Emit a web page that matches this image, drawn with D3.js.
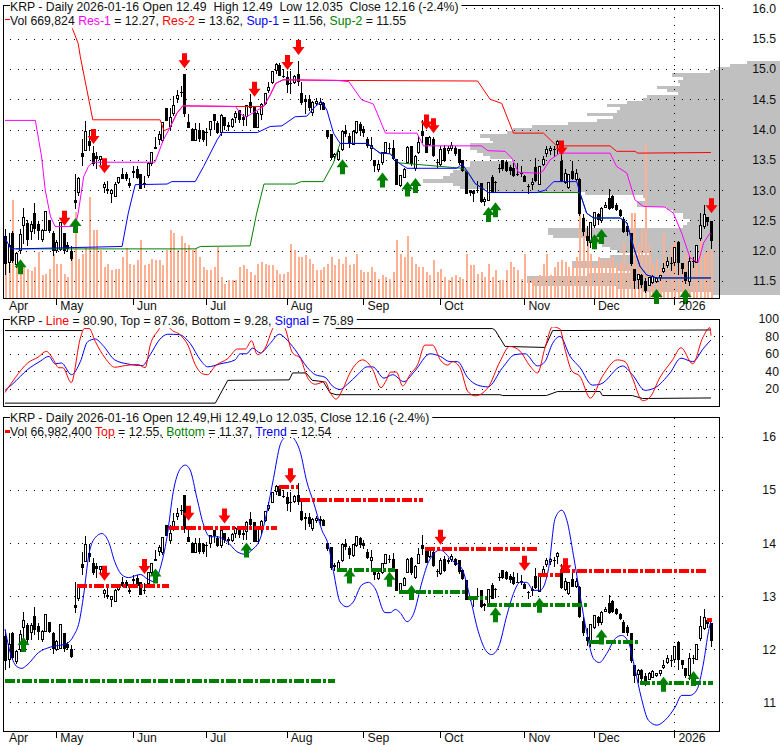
<!DOCTYPE html>
<html><head><meta charset="utf-8">
<style>
html,body{margin:0;padding:0;background:#fff}
svg{display:block;font-family:"Liberation Sans",Arial,sans-serif;font-size:12px}
text{white-space:pre;fill:#111}
</style>
<script src="https://cdnjs.cloudflare.com/ajax/libs/d3/7.8.5/d3.min.js"></script>
</head><body><script>
const opens=[12.25,11.80,12.30,11.77,12.0,12.41,12.46,12.31,12.63,12.44,
12.19,12.33,12.51,12.30,12.0,12.02,12.3,12.09,12.0,12.83,
12.96,13.61,13.65,13.81,13.62,13.57,13.5,13.05,13.0,12.94,
12.9,13.12,13.26,13.26,13.12,13.32,13.34,13.26,13.12,13.24,
13.44,13.68,13.84,13.82,14.35,14.05,14.26,14.51,14.62,14.91,
14.12,14.01,13.82,14.0,13.98,13.96,14.0,14.25,14.1,13.95,
14.2,14.05,14.05,14.19,14.33,14.2,14.22,14.45,14.39,14.03,
14.25,14.43,14.65,14.77,14.97,15.07,14.89,14.86,14.77,14.78,
14.91,14.6,14.5,14.5,14.28,14.43,14.42,14.43,14.0,13.92,
13.55,13.51,13.67,13.98,13.9,13.76,13.95,14.09,14.01,13.84,
13.68,13.5,13.34,13.45,13.62,13.7,13.7,13.51,13.07,13.21,
13.45,13.72,13.35,13.62,13.97,13.87,13.75,13.84,13.47,13.42,
13.7,13.65,13.69,13.7,13.68,13.5,13.31,13.0,12.99,13.0,
13.12,12.82,12.83,13.21,13.13,13.37,13.5,13.46,13.38,13.37,
13.27,13.28,13.23,13.07,13.1,13.38,13.09,13.43,13.6,13.66,
13.68,13.75,13.48,13.12,13.05,13.32,13.18,13.18,12.54,12.24,
12.14,12.41,12.61,12.5,12.72,12.87,12.9,12.76,12.67,12.52,
12.41,12.3,11.7,11.53,11.6,11.5,11.43,11.47,11.5,11.55,
11.66,11.75,11.8,11.8,12.14,11.8,11.65,11.5,11.83,11.8,
12.2,12.4,12.55,12.49];
const highs=[12.36,12.3,12.33,11.98,12.36,12.71,12.5,12.49,12.79,12.49,
12.36,12.65,12.51,12.33,12.17,12.47,12.3,12.14,12.08,13.27,
13.21,13.84,14.14,13.99,13.72,13.63,13.56,13.14,13.15,13.01,
13.14,13.22,13.37,13.3,13.2,13.4,13.4,13.26,13.24,13.46,
13.62,13.87,13.97,14.11,14.35,14.35,14.56,14.66,14.72,14.91,
14.26,14.03,14.1,14.1,14.0,14.03,14.14,14.25,14.14,14.25,
14.2,14.12,14.19,14.3,14.33,14.25,14.41,14.58,14.39,14.3,
14.43,14.6,14.78,14.97,15.09,15.09,15.0,14.97,14.97,14.9,
15.13,14.78,14.57,14.57,14.47,14.52,14.52,14.45,14.0,13.92,
13.62,13.68,14.0,14.07,13.95,13.99,14.13,14.12,14.05,13.88,
13.87,13.5,13.48,13.62,13.78,13.78,13.82,13.51,13.24,13.36,
13.72,13.73,13.58,13.9,14.16,13.87,13.9,13.87,13.51,13.72,
13.75,13.72,13.79,13.72,13.68,13.5,13.31,13.0,13.0,13.15,
13.12,12.88,13.13,13.25,13.15,13.43,13.5,13.48,13.42,13.45,
13.44,13.4,13.25,13.1,13.2,13.53,13.4,13.57,13.72,13.72,
13.73,13.83,13.6,13.35,13.27,13.48,13.35,13.2,12.6,12.4,
12.46,12.64,12.63,12.72,12.8,13.02,12.92,12.78,12.68,12.55,
12.45,12.3,11.7,11.62,11.62,11.55,11.57,11.6,11.56,11.6,
11.8,11.9,11.89,12.05,12.16,11.8,11.65,11.92,11.9,12.08,
12.62,12.75,12.55,12.49];
const lows=[11.6,11.64,11.8,11.72,11.95,12.11,12.08,12.18,12.27,12.18,
12.14,12.33,12.3,11.91,11.97,12.0,11.95,11.98,11.83,12.68,
12.9,13.4,13.65,13.65,13.4,13.34,13.42,12.96,12.94,12.79,
12.9,13.1,13.18,13.15,13.04,13.2,13.18,13.02,13.04,13.2,
13.4,13.67,13.75,13.78,14.14,13.99,14.22,14.44,14.53,14.2,
14.03,13.81,13.82,13.8,13.8,13.73,13.9,14.0,13.93,13.9,
14.0,13.97,14.03,14.1,14.1,14.05,14.05,14.28,14.03,14.03,
14.15,14.4,14.6,14.75,14.91,14.89,14.85,14.6,14.58,14.75,
14.72,14.41,14.25,14.3,14.22,14.38,14.32,14.33,13.85,13.5,
13.48,13.49,13.65,13.87,13.7,13.74,13.93,13.9,13.88,13.7,
13.5,13.3,13.3,13.42,13.6,13.62,13.5,13.09,13.05,13.2,
13.43,13.4,13.32,13.6,13.78,13.62,13.72,13.55,13.37,13.4,
13.46,13.6,13.65,13.57,13.42,13.3,12.93,12.9,12.8,12.96,
12.78,12.73,12.83,12.95,12.96,13.28,13.32,13.3,13.25,13.22,
13.24,13.22,13.13,12.94,13.0,13.13,13.09,13.4,13.55,13.58,
13.55,13.6,13.13,13.1,13.02,13.17,13.15,12.58,12.25,12.07,
12.05,12.38,12.43,12.45,12.72,12.67,12.68,12.65,12.55,12.3,
12.25,11.75,11.36,11.37,11.38,11.3,11.42,11.45,11.47,11.5,
11.63,11.72,11.66,11.75,11.6,11.62,11.45,11.42,11.72,11.8,
12.16,12.36,12.4,12.035];
const closes=[11.78,12.08,11.83,11.95,12.27,12.55,12.18,12.44,12.36,12.33,
12.33,12.65,12.33,12.0,12.14,12.47,12.0,12.02,11.86,12.78,
13.19,13.54,13.97,13.73,13.43,13.52,13.55,13.1,13.01,12.99,
13.1,13.2,13.19,13.19,13.07,13.28,13.2,13.02,13.1,13.44,
13.62,13.7,13.91,14.11,14.14,14.19,14.4,14.56,14.61,14.26,
14.03,13.81,14.0,13.84,13.83,13.95,14.14,14.14,13.95,14.23,
14.05,14.07,14.17,14.27,14.16,14.16,14.39,14.35,14.03,14.26,
14.41,14.6,14.7,14.96,15.07,14.89,14.86,14.73,14.77,14.88,
14.78,14.44,14.45,14.36,14.45,14.47,14.45,14.33,13.88,13.53,
13.58,13.64,13.97,13.92,13.77,13.97,14.13,13.97,13.95,13.72,
13.73,13.4,13.43,13.62,13.78,13.7,13.51,13.09,13.24,13.34,
13.7,13.43,13.56,13.78,13.89,13.62,13.87,13.57,13.46,13.67,
13.48,13.68,13.74,13.59,13.45,13.32,12.93,12.96,12.93,13.0,
12.8,12.84,13.13,12.95,13.13,13.37,13.34,13.32,13.31,13.23,
13.27,13.27,13.14,13.07,13.12,13.15,13.39,13.5,13.67,13.69,
13.68,13.8,13.15,13.27,13.25,13.18,13.28,12.6,12.31,12.16,
12.46,12.63,12.5,12.69,12.75,12.69,12.71,12.67,12.57,12.31,
12.31,11.78,11.5,11.6,11.43,11.34,11.55,11.58,11.54,11.59,
11.7,11.83,11.8,12.05,11.8,11.7,11.5,11.83,11.83,12.08,
12.42,12.6,12.47,12.16];
// daily volume, thousands of shares
const volumes=[531,484,1377,578,414,437,414,381,437,649,
320,343,414,625,475,475,343,296,578,1213,
555,625,719,1424,954,954,672,437,484,390,
414,414,578,696,484,461,531,813,461,484,
555,531,531,461,672,954,907,672,870,766,
743,672,696,578,437,390,390,437,719,296,
202,249,249,249,437,470,414,367,320,484,
508,484,461,461,390,343,343,367,757,672,
578,578,602,555,484,390,390,437,484,578,
461,555,484,578,461,484,625,390,367,367,
437,367,273,320,296,273,367,813,625,578,
870,578,484,437,437,367,320,531,367,414,
296,249,296,320,296,273,625,461,461,343,
367,296,484,296,390,249,249,390,508,437,
390,273,625,273,273,296,320,484,625,320,
437,508,531,508,437,461,578,1424,1142,954,
625,461,578,531,531,555,578,484,508,790,
484,1189,1189,743,954,2153,743,484,555,437,
907,578,743,790,625,484,625,625,578,672,
813,625,672,670];
// volume at price, rows from 15.10 down in 0.05 steps
const vapStart=15.10, vapStep=0.05;
const vapRows=[33,50,62,70,108,97,102,100,123,113,102,133,137,153,173,160,163,193,167,183,
212,248,267,273,300,290,287,310,310,303,297,290,267,310,310,320,327,330,337,357,
327,320,287,195,137,133,143,143,113,107,97,97,90,93,97,232,232,227,193,187,
178,170,163,130,170,180,208,207,163,150,193,253,253,247,163,137,68];

const res2Idx=[18.4,20,20.6,24,42.4,43.5,45,47,48.6,63,70.7,72.5,74,76,90.7,129.2,132.6,135.8,139,147.2,150.8,165.4,167.2,172.2,173,193];
const res2Val=[15.67,15.42,15.2,14.16,14.16,13.98,14.02,14.27,14.39,14.38,14.38,14.57,14.76,14.82,14.81,14.8,14.5,14.43,13.94,13.94,13.73,13.73,13.64,13.64,13.61,13.62];
const res1Idx=[0,8.3,10,11,12.4,13.7,19.2,20,21.5,22.8,24,41,43.3,45,47,48.6,63,64.7,66,70.7,72.5,74,76,90.7,94,97.5,100.7,104,112.6,114.4,130.3,132,136.7,138.5,140.4,146.3,147,149,151.7,165.4,167.2,170,172.2,174.5,180.4,182.7,185,187.3,189.5,191,192.7,193];
const res1Val=[14.15,14.15,13.55,13.0,12.57,12.4,12.4,12.62,13.22,13.39,13.46,13.46,13.83,14.02,14.27,14.39,14.38,14.24,14.21,14.38,14.57,14.76,14.82,14.81,14.79,14.49,14.42,13.94,13.94,13.73,13.73,13.65,13.64,13.53,13.29,13.28,13.31,13.5,13.61,13.61,13.39,13.28,12.84,12.73,12.72,12.62,12.29,11.88,11.81,12.13,12.29,12.27];
const sup1Idx=[0,1.5,3,32,33.7,35.6,44.3,45.6,52,54.3,58,59.3,69,72.5,75.7,79.3,82.5,84.8,86.6,88,89.8,91.6,99,102.5,105.3,107.6,109.9,123.5,125,126.7,128.5,132.2,145.4,147.7,150,156.3,157.2,159,160.9,168.1,170,171.8,173.6,175.4,178.2,193];
const sup1Val=[12.21,12.04,12.03,12.07,12.62,13.09,13.1,13.14,13.14,13.39,13.83,13.95,13.95,14.05,14.06,14.21,14.22,14.38,14.46,14.32,13.94,13.77,13.77,13.61,13.6,13.45,13.36,13.36,13.43,13.28,13.11,12.96,12.96,13.0,13.14,13.14,12.95,12.62,12.54,12.54,12.46,12.07,11.74,11.6,11.55,11.55];
const sup2Idx=[3,52,53.4,67,68.8,70.8,79.3,81,87,89.8,91.6,99,102.5,105.3,107.6,125,126.7,128.5,132.2,157,157.2,159,160.9,168.1,170,171.8,173.6,175.4,178.2,193];
const sup2Val=[12.03,12.03,12.07,12.08,12.62,13.1,13.1,13.14,13.14,13.45,13.77,13.77,13.61,13.6,13.45,13.36,13.28,13.11,12.96,12.96,12.95,12.62,12.54,12.54,12.46,12.07,11.74,11.6,11.55,11.55];
const priceDownIdx=[16,24,27,49,68,77,80,115,117,152,193];
const priceDownVal=[12.41,13.76,13.28,15.01,14.54,14.98,15.23,14.0,13.94,13.57,12.62];
const priceUpIdx=[4,19,92,103,110,112,132,134,161,163,178,186];
const priceUpVal=[11.86,12.54,13.51,13.29,13.14,13.2,12.72,12.8,12.27,12.36,11.37,11.37];

const lineIdx=[0,2.8,6.2,9,11.3,13,14.7,15.8,18.1,20.6,21.7,23,24.7,27.4,30,32.9,36.3,38.3,39.7,42.2,43.7,45.2,47.9,50,52,54,55.4,57.4,60.9,63.6,65.7,67.4,69,71.1,73.2,75,76.6,78.6,80.7,82.7,84.8,87.5,88.9,90.5,92.3,94.3,97.8,100.5,102.8,103.9,105.5,107,108.7,110.7,112.8,114.8,116.9,119,121,122.4,124.4,126.5,128.5,132,135.3,138,140.8,143.5,145.6,147.6,149.7,151.7,153,155,157.2,160,163.3,167.4,169.5,171.5,174.3,176.3,179,182.5,184.8,188,190.7,192.7,193];
const lineVal=[15.5,32.5,49.5,56,62.8,55,44,44,27,78,89,89,74,55,44.6,46.5,47.7,44,70,89,100,89,81.7,70,47.6,37,36,45.8,54.5,65.5,65.5,75,59,66.6,89,98,89,61,55,32.5,25,28,15.5,8,19,38,53,42,21,27,39,39,23,36,47.6,70,70,53,47,51,44,17,11.7,21,51,68.5,63,46,38,66.6,91,88.5,66.6,40,34,9,34,53,51,32.5,6,10,32.5,53,67,48.5,78,90,80.9];
const signalIdx=[0,2,6.2,9.6,12,13.7,15.4,18.2,20.6,22.6,24.7,26.7,30,33.5,37.6,39.7,42.2,44.5,47.6,50.6,53.4,55.4,58.8,62.9,64.3,66,67.7,69.8,72.5,75,76.6,79.3,82.7,84.8,87.5,89.5,91.6,93.6,96.4,99,100.5,103.6,106,109,112,116.2,119,121.6,123.7,126.5,129.2,132,136,139.4,142.2,145.6,147.6,149.7,151.7,154.5,157.2,160.6,162.7,168.8,171.5,175,177.7,181.8,184.8,188,191,193];
const signalVal=[18,25,42,51.4,57,48.4,49.5,36,51,74,77,70,53,48.4,46.5,59,76,82.5,82,72,53,45,48.4,53,60,60,66.6,61,72,82.5,78,64.7,44,36,33,23,19,25,36,45,45,32,36,28,40,60,57,51,51,32.5,24,22,44,59,60,46,51,72,80,57,44,24,25,46,36,18,21,38,55,51,66.6,75.89];
const topIdx=[0,21.2,null,90.4,133.3,134,136.7,147.6,149.7,193];
const topVal=[86.7,86.7,null,89,89,87,68.5,67.3,86.7,87.36];
const bottomIdx=[0,57.5,60.9,77.7,78.6,82.3,84,87,88.9,90.5,135.3,136,148,151,162.7,163.3,171.5,174.3,193];
const bottomVal=[3.3,3.3,29.5,30,38,38,29.5,28,15,13,13,12,12,16.6,16.6,12,12,8.6,9.28];

const trendIdx=[0,1.5,3.3,4.6,6,9.2,12.4,17,18.8,20.3,21.5,22.9,24.2,26.5,28.3,30,32,33.8,37,38.8,41,42.4,44.3,46,48,49.3,50.6,52.5,54.3,56,58,60.7,63.4,65.7,67.5,69.8,71.6,73.4,75.2,76.6,77.7,78.9,80.7,82.5,84.3,86.6,88.4,89.8,91.6,93.4,95.2,97.5,99.4,101.2,103.9,105.3,106.7,108,109.9,111.7,114,115.8,119,122.1,124.9,127.2,129.4,131.7,133,134.9,137.2,139,140.8,142.6,144.5,146.3,148.6,150.4,152.2,153.6,155.4,157.2,159,160.9,162.5,164.5,166.8,168.6,170.4,172.2,174,175.9,178.2,180.4,183.2,185,187.3,189.1,191,192.3,193];
const trendVal=[12.38,11.92,11.67,11.64,11.7,11.94,12.04,12.11,12.26,12.52,13.02,13.77,14.06,14.18,14.03,13.65,13.4,13.35,13.41,13.33,13.27,13.52,14.12,14.97,15.41,15.47,15.38,14.84,14.34,14.12,14.12,14.03,13.84,13.79,13.87,14.09,14.59,15.22,15.85,16.0,16.05,15.98,15.72,15.16,14.78,14.25,13.96,13.46,12.89,12.8,12.89,13.21,13.26,13.14,12.69,12.69,12.75,12.69,12.52,12.67,13.27,13.65,13.87,13.68,13.52,12.96,12.33,11.95,11.9,12.04,12.64,13.05,13.26,13.26,13.11,13.11,13.52,14.47,14.62,14.43,13.77,13.02,12.33,11.82,11.75,11.92,12.2,12.26,12.14,11.63,11.07,10.66,10.57,10.66,10.91,11.13,11.13,11.23,11.76,12.33,12.54];
const redLevelFrom=[19.8,44.7,74.8,80.7,114.9,145.8,151.7,191.8];
const redLevelTo=[44.7,74.3,80.2,114.4,145.4,151.7,191.6,193.4];
const redLevelVal=[13.2,14.28,15.06,14.81,13.88,13.39,13.47,12.55];
const greenLevelFrom=[0,90.7,107.6,126.7,131.7,159.7,173.6];
const greenLevelTo=[90.2,106.7,125.8,131.7,159.7,173.6,193.6];
const greenLevelVal=[11.41,13.49,13.07,12.97,12.84,12.13,11.37];
const trendDownIdx=[27,38,50,60,78,119,142,153];
const trendDownVal=[13.29,13.42,14.42,14.37,15.13,13.97,13.48,13.43];
const trendUpIdx=[5,41,66,94,105,111,134,146,163,180,188];
const trendUpVal=[12.23,13.52,14.01,13.52,13.46,13.21,12.79,12.97,12.37,11.48,11.59];

const monthIdx=[0,14,35,55,77,98,119,142,161,183];
const monthLabels=["Apr","May","Jun","Jul","Aug","Sep","Oct","Nov","Dec","2026"];
const priceTicks=[11.5,12,12.5,13,13.5,14,14.5,15,15.5,16];
const stochTicks=[20,40,60,80,100];
const trendTicks=[11,12,13,14,15,16];
const yearIdx=183;

const W=780,H=745,L=3,R=719,FS=12.25;
const svg=d3.select("body").append("svg").attr("width",W).attr("height",H);
const x=d3.scaleLinear().domain([0,193]).range([5,711]);
const bars=d3.range(opens.length);

const P1={top:5,bottom:298,clip:27,y:d3.scaleLinear().domain([11.5,16]).range([281,8.3])};
const P2={top:319,bottom:406,clip:327,y:d3.scaleLinear().domain([0,100]).range([406,319])};
const P3={top:417,bottom:731,clip:438,y:d3.scaleLinear().domain([11,16]).range([702.3,437])};
const yVol=d3.scaleLinear().domain([0,4117]).range([P1.bottom,P1.top]);

let clipN=0;
function clipFor(p){
  const id="c"+(clipN++);
  svg.append("clipPath").attr("id",id).append("rect").attr("x",L).attr("y",p.clip).attr("width",R-L).attr("height",p.bottom-p.clip);
  return `url(#${id})`;
}
function series(g,idx,val,color,y,w=1,curve=d3.curveLinear){
  const pts=idx.map((d,i)=>[d,val[i]]);
  g.append("path").datum(pts).attr("fill","none").attr("stroke",color).attr("stroke-width",w)
   .attr("d",d3.line().defined(d=>d[0]!==null).x(d=>x(d[0])).y(d=>y(d[1])).curve(curve));
}
function grid(p,ticks,year){
  const g=svg.append("g").attr("transform",`translate(${R},0)`)
    .call(d3.axisRight(p.y).tickValues(ticks).tickSize(0).tickFormat(""));
  g.select(".domain").remove();
  g.selectAll(".tick line").attr("x1",4).attr("x2",L-R).attr("stroke","#000").attr("stroke-dasharray","1,7").attr("shape-rendering","crispEdges");
  if(year){
    const a=svg.append("g").attr("transform",`translate(0,${p.bottom})`)
     .call(d3.axisTop(x).tickValues([yearIdx]).tickSize(p.bottom-p.top).tickFormat(""));
    a.select(".domain").remove();
    a.selectAll(".tick line").attr("stroke","#000").attr("stroke-dasharray","1,7").attr("shape-rendering","crispEdges");
  }
}
function frame(p){
  svg.append("rect").attr("x",L+.5).attr("y",p.top+.5).attr("width",R-L).attr("height",p.bottom-p.top)
   .attr("fill","none").attr("stroke","#000").attr("shape-rendering","crispEdges");
}
function valueAxis(p,ticks,fmt,right){
  const g=svg.append("g").attr("transform",`translate(${right},0)`)
    .call(d3.axisLeft(p.y).tickValues(ticks).tickSize(0).tickPadding(0).tickFormat(fmt));
  g.select(".domain").remove();
  g.selectAll("text").attr("font-size",FS).attr("font-family",'"Liberation Sans"').attr("fill","#111");
}
function monthAxis(p,baseline){
  const g=svg.append("g").attr("transform",`translate(0,${p.bottom})`)
   .call(d3.axisBottom(x).tickValues(monthIdx).tickSize(7).tickFormat((d,i)=>monthLabels[i]));
  g.select(".domain").remove();
  g.selectAll(".tick line").attr("stroke","#000").attr("shape-rendering","crispEdges").filter((d,i)=>i===0).remove();
  g.selectAll("text").attr("text-anchor","start").attr("x",3.5).attr("y",baseline-p.bottom).attr("dy",0)
   .attr("font-size",FS).attr("font-family",'"Liberation Sans"').attr("fill","#111");
}
function candles(p){
  const g=svg.append("g").attr("shape-rendering","crispEdges");
  const y=p.y, px=i=>Math.round(x(i));
  const up=i=>closes[i]>opens[i];
  g.selectAll(".w").data(bars).join("rect").attr("x",px).attr("width",1)
    .attr("y",i=>y(highs[i])).attr("height",i=>Math.max(1,y(lows[i])-y(highs[i]))).attr("fill","#000");
  g.selectAll(".b").data(bars).join("rect")
    .attr("x",i=>up(i)?px(i)-.5:px(i)-1).attr("width",i=>up(i)?2:3)
    .attr("y",i=>y(Math.max(opens[i],closes[i])))
    .attr("height",i=>Math.max(1,Math.abs(y(opens[i])-y(closes[i]))))
    .attr("fill",i=>up(i)?"#fff":"#000")
    .attr("stroke","#000").attr("stroke-width",i=>up(i)?1:0);
}
function arrows(p,idx,val,color,down){
  const s=down?-1:1;
  const shape=`M0,0L-6,${8*s}L-2.5,${8*s}L-2.5,${15*s}L2.5,${15*s}L2.5,${8*s}L6,${8*s}Z`;
  svg.append("g").selectAll("path").data(idx).join("path")
    .attr("d",shape).attr("fill",color)
    .attr("transform",(d,i)=>`translate(${Math.round(x(d))+.5},${p.y(val[i])})`);
}
function label(xp,yp,parts,bg){
  const t=svg.append("text").attr("x",xp).attr("y",yp).attr("font-size",FS);
  parts.forEach(([s,c])=>t.append("tspan").text(s).style("fill",c||"#111"));
  if(bg){
    const b=t.node().getBBox();
    svg.insert("rect",()=>t.node()).attr("x",b.x).attr("y",b.y).attr("width",b.width+3).attr("height",b.height).attr("fill","#fff");
  }
}

/* ---------- panel 1 ---------- */
const yVap=d3.scaleLinear().domain([0,357]).range([W,W-357]);
const rowH=Math.abs(P1.y(0)-P1.y(vapStep));
svg.append("g").attr("shape-rendering","crispEdges").selectAll("rect").data(vapRows).join("rect")
  .attr("x",d=>yVap(d)).attr("width",d=>W-yVap(d))
  .attr("y",(d,i)=>P1.y(vapStart-vapStep*i)-rowH/2).attr("height",rowH+.5).attr("fill","#c0c0c0");
svg.append("g").attr("shape-rendering","crispEdges").selectAll("rect").data(volumes).join("rect")
  .attr("x",(d,i)=>Math.round(x(i))).attr("width",2).attr("y",d=>yVol(d)).attr("height",d=>P1.bottom-yVol(d))
  .attr("fill","#ffb090");
grid(P1,priceTicks,true);
frame(P1);
candles(P1);
const g1=svg.append("g").attr("clip-path",clipFor(P1));
series(g1,sup2Idx,sup2Val,"#008000",P1.y);
series(g1,res2Idx,res2Val,"#ff0000",P1.y);
series(g1,res1Idx,res1Val,"#ff00ff",P1.y);
series(g1,sup1Idx,sup1Val,"#0000ff",P1.y);
arrows(P1,priceDownIdx,priceDownVal,"#ff0000",true);
arrows(P1,priceUpIdx,priceUpVal,"#008000",false);
valueAxis(P1,priceTicks,d3.format(".1f"),776);
monthAxis(P1,310);
label(10,11,[["KRP - Daily 2026-01-16 Open 12.49  High 12.49  Low 12.035  Close 12.16 (-2.4%)"]],true);
label(10,25,[["Vol 669,824 "],["Res-1","#ff00ff"],[" = 12.27, "],["Res-2","#ff0000"],[" = 13.62, "],["Sup-1","#0000ff"],[" = 11.56, "],["Sup-2","#008000"],[" = 11.55"]]);
svg.append("rect").attr("x",5).attr("y",19).attr("width",5).attr("height",1).attr("fill","#ff0000");

/* ---------- panel 2 ---------- */
grid(P2,stochTicks.slice(0,4),false);
frame(P2);
const g2=svg.append("g").attr("clip-path",clipFor(P2));
series(g2,topIdx,topVal,"#000",P2.y);
series(g2,bottomIdx,bottomVal,"#000",P2.y);
series(g2,signalIdx,signalVal,"#0000ff",P2.y,1,d3.curveMonotoneX);
series(g2,lineIdx,lineVal,"#ff0000",P2.y,1,d3.curveMonotoneX);
valueAxis(P2,stochTicks,d3.format("d"),779);
label(10,325,[["KRP - "],["Line","#ff0000"],[" = 80.90, Top = 87.36, Bottom = 9.28, "],["Signal","#0000ff"],[" = 75.89"]],true);

/* ---------- panel 3 ---------- */
grid(P3,trendTicks,true);
frame(P3);
candles(P3);
const g3=svg.append("g").attr("clip-path",clipFor(P3));
series(g3,trendIdx,trendVal,"#0000ff",P3.y,1,d3.curveMonotoneX);
function levels(from,to,val,color){
  svg.append("g").attr("shape-rendering","crispEdges").selectAll("line").data(val).join("line")
   .attr("x1",(d,i)=>x(from[i])).attr("x2",(d,i)=>x(to[i])).attr("y1",d=>P3.y(d)).attr("y2",d=>P3.y(d))
   .attr("stroke",color).attr("stroke-width",4).attr("stroke-dasharray","10,2,3,2");
}
levels(greenLevelFrom,greenLevelTo,greenLevelVal,"#008000");
levels(redLevelFrom,redLevelTo,redLevelVal,"#ff0000");
arrows(P3,trendDownIdx,trendDownVal,"#ff0000",true);
arrows(P3,trendUpIdx,trendUpVal,"#008000",false);
valueAxis(P3,trendTicks,d3.format("d"),776);
monthAxis(P3,742);
label(10,422,[["KRP - Daily 2026-01-16 Open 12.49,Hi 12.49,Lo 12.035, Close 12.16 (-2.4%)"]],true);
label(10,436,[["Vol 66,982,400 "],["Top","#ff0000"],[" = 12.55, "],["Bottom","#008000"],[" = 11.37, "],["Trend","#0000ff"],[" = 12.54"]]);
svg.append("rect").attr("x",5).attr("y",430).attr("width",5).attr("height",3).attr("fill","#ff0000");
</script></body></html>
